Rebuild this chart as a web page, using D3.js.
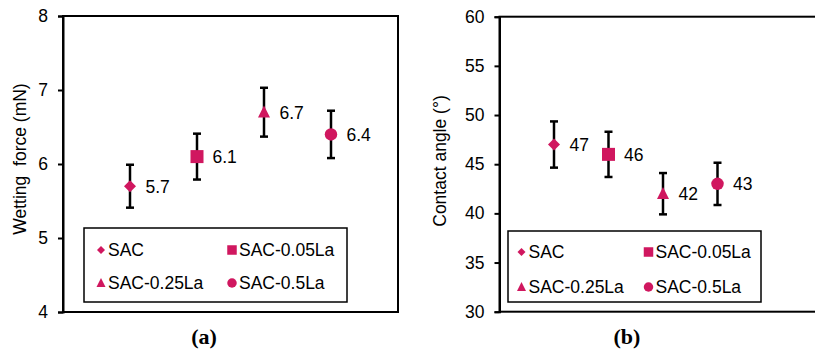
<!DOCTYPE html>
<html><head><meta charset="utf-8">
<script src="https://cdn.jsdelivr.net/npm/d3@7"></script>
<style>body{margin:0;background:#fff}svg{display:block;font-family:Arial,"Liberation Sans",sans-serif}</style>
</head><body><svg id="c" width="815" height="354"></svg>
<script>
const categories = ["SAC","SAC-0.05La","SAC-0.25La","SAC-0.5La"];
const symbols = ["diamond","square","triangle","circle"];
const wettingForce = [5.7, 6.1, 6.7, 6.4];
const wettingErr = [0.29, 0.31, 0.33, 0.32];
const contactAngle = [47, 46, 42, 43];
const contactErr = [2.35, 2.3, 2.1, 2.15];
const ticksA = [4,5,6,7,8];
const ticksB = [30,35,40,45,50,55,60];
const color = "#D0175F";

const svg = d3.select("#c");

function marker(g, type, cx, cy, s) {
  if (type === "diamond") {
    g.append("path").attr("d", `M${cx},${cy-s/2}L${cx+s/2},${cy}L${cx},${cy+s/2}L${cx-s/2},${cy}Z`).attr("fill", color);
  } else if (type === "square") {
    g.append("rect").attr("x", cx-s/2).attr("y", cy-s/2).attr("width", s).attr("height", s).attr("fill", color);
  } else if (type === "triangle") {
    g.append("path").attr("d", `M${cx},${cy-s*0.55}L${cx+s/2},${cy+s*0.45}L${cx-s/2},${cy+s*0.45}Z`).attr("fill", color);
  } else {
    g.append("circle").attr("cx", cx).attr("cy", cy).attr("r", s/2).attr("fill", color);
  }
}

function panel(opt) {
  const g = svg.append("g");
  const x = d3.scaleLinear().domain([0, opt.xmax]).range([opt.left, opt.right]);
  const y = d3.scaleLinear().domain(opt.ydom).range([opt.bottom, opt.top]);
  g.append("rect").attr("x", opt.left).attr("y", opt.top)
    .attr("width", opt.right-opt.left).attr("height", opt.bottom-opt.top)
    .attr("fill", "none").attr("stroke", "#000").attr("stroke-width", 2);
  const ax = g.append("g").attr("transform", `translate(${opt.left},0)`)
    .call(d3.axisLeft(y).tickValues(opt.ticks).tickSize(5).tickPadding(10).tickFormat(d3.format("d")));
  ax.select(".domain").attr("stroke-width", 2);
  ax.selectAll(".tick line").attr("stroke-width", 2);
  ax.selectAll(".tick text").attr("font-size", 17.5).attr("fill", "#000").attr("font-family", "Arial, 'Liberation Sans', sans-serif");
  g.append("text").attr("transform", `translate(${opt.titleX},${opt.titleY}) rotate(-90)`)
    .attr("text-anchor", "middle").attr("font-size", 17.5).attr("fill", "#000")
    .style("white-space", "pre").text(opt.title);
  opt.values.forEach((v, i) => {
    const cx = x(i+1);
    const y0 = y(v - opt.errs[i]), y1 = y(v + opt.errs[i]);
    g.append("line").attr("x1", cx).attr("x2", cx).attr("y1", y0).attr("y2", y1).attr("stroke", "#000").attr("stroke-width", 2.5);
    [y0, y1].forEach(yy => g.append("line").attr("x1", cx-4).attr("x2", cx+4).attr("y1", yy).attr("y2", yy).attr("stroke", "#000").attr("stroke-width", 2.5));
    marker(g, symbols[i], cx, y(v), [12,13,12,12.5][i]);
    g.append("text").attr("x", cx + 15.5).attr("y", y(v)).attr("dy", "0.36em")
      .attr("font-size", 17.5).attr("fill", "#000").text(opt.labelFmt(v));
  });
  const L = opt.legend;
  g.append("rect").attr("x", L.x).attr("y", L.y).attr("width", L.w).attr("height", L.h)
    .attr("fill", "#fff").attr("stroke", "#000").attr("stroke-width", 1.5);
  categories.forEach((c, i) => {
    const col = i % 2, row = Math.floor(i / 2);
    const mx = col ? L.mx2 : L.mx1;
    const my = row ? L.row2 : L.row1;
    marker(g, symbols[i], mx, my, [8,9.5,9,9.5][i]);
    g.append("text").attr("x", mx + 7).attr("y", my).attr("dy", "0.36em")
      .attr("font-size", 17.5).attr("fill", "#000").text(c);
  });
  g.append("text").attr("x", opt.capX).attr("y", 344).attr("text-anchor", "middle")
    .attr("font-family", "'Liberation Serif','Times New Roman',serif").attr("font-weight", "bold")
    .attr("font-size", 22).attr("fill", "#000").text(opt.caption);
}

panel({left: 63, right: 398, top: 16, bottom: 312, xmax: 5, ydom: [4, 8], ticks: ticksA,
  title: "Wetting  force (mN)", titleX: 26, titleY: 159,
  values: wettingForce, errs: wettingErr, labelFmt: d3.format(".1f"),
  legend: {x: 84, y: 228, w: 263, h: 74, mx1: 101, mx2: 232, row1: 250, row2: 283},
  caption: "(a)", capX: 204});

panel({left: 499.5, right: 826.5, top: 16.7, bottom: 311.7, xmax: 6, ydom: [30, 60], ticks: ticksB,
  title: "Contact angle (°)", titleX: 446, titleY: 161,
  values: contactAngle, errs: contactErr, labelFmt: d3.format("d"),
  legend: {x: 508, y: 231, w: 253, h: 71, mx1: 521.5, mx2: 648.5, row1: 252, row2: 287},
  caption: "(b)", capX: 627});
</script></body></html>
